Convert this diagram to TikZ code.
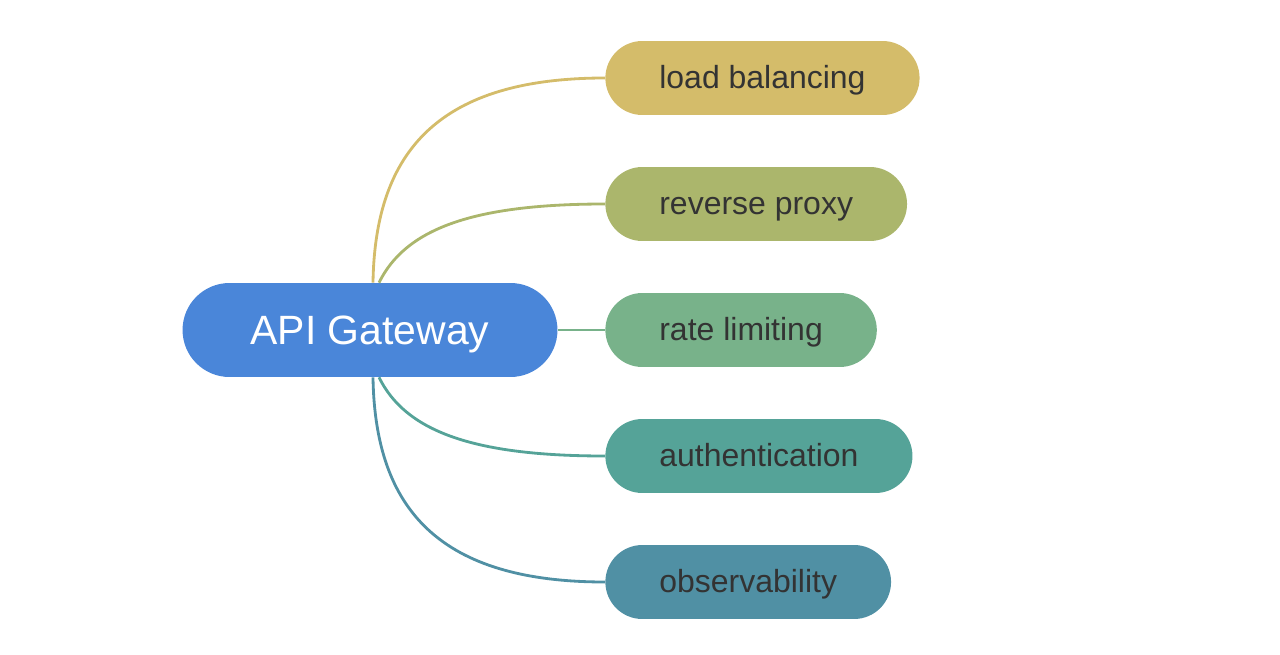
\documentclass[tikz,border=0pt]{standalone}
\usepackage{fontspec}
\setmainfont{Liberation Sans}
\usepackage{xcolor}
\usetikzlibrary{positioning, calc}

\definecolor{rootblue}{HTML}{4A86D9}
\definecolor{loadcol}{HTML}{D4BC6A}
\definecolor{proxycol}{HTML}{ABB66C}
\definecolor{ratecol}{HTML}{78B28A}
\definecolor{authcol}{HTML}{55A398}
\definecolor{obscol}{HTML}{5090A4}
\definecolor{labeltext}{HTML}{333333}

\begin{document}
\begin{tikzpicture}[
    x=0.02cm, y=-0.02cm,
    rootbox/.style={rectangle, rounded corners=0.94cm, fill=rootblue, text=white, minimum width=7.5cm, minimum height=1.88cm, text height=21pt, text depth=5pt, font=\fontsize{23.3}{28}\selectfont},
    leafbox/.style={rectangle, rounded corners=0.74cm, anchor=west, text=labeltext, minimum height=1.48cm, inner xsep=1.08cm, text height=16.4pt, text depth=4pt, font=\fontsize{18.2}{22}\selectfont},
    link/.style={line width=1.6pt}
]
    \useasboundingbox (0,0) rectangle (1280,655);

    % Central topic
    \node (gateway) [rootbox] at (370,330) {API Gateway};

    % Branch topics
    \node (load)  [leafbox, fill=loadcol]  at (605,78)  {load balancing};
    \node (proxy) [leafbox, fill=proxycol] at (605,204) {reverse proxy};
    \node (rate)  [leafbox, fill=ratecol]  at (605,330) {rate limiting};
    \node (auth)  [leafbox, fill=authcol]  at (605,456) {authentication};
    \node (obs)   [leafbox, fill=obscol]   at (605,582) {observability};

    % Connecting curves
    \draw [link, draw=loadcol]  ($(gateway.north)+(3,0)$) .. controls (375,150) and (440,78) .. (load.west);
    \draw [link, draw=proxycol] ($(gateway.north)+(9,0)$) .. controls (405,230) and (470,204) .. (proxy.west);
    \draw [link, draw=ratecol]  (gateway.east) -- (rate.west);
    \draw [link, draw=authcol]  ($(gateway.south)+(9,0)$) .. controls (405,430) and (470,456) .. (auth.west);
    \draw [link, draw=obscol]   ($(gateway.south)+(3,0)$) .. controls (375,510) and (440,582) .. (obs.west);

\end{tikzpicture}
\end{document}
